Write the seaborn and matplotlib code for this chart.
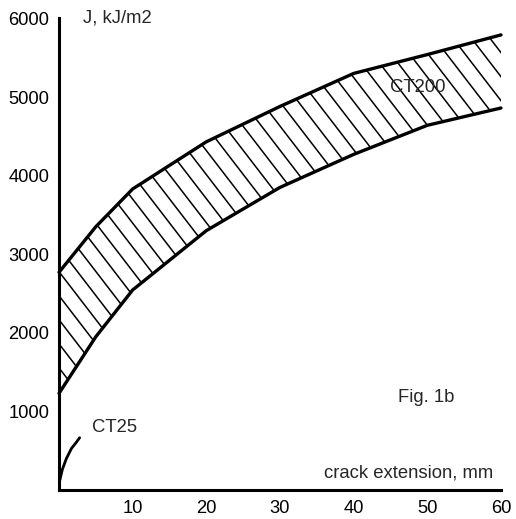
import matplotlib
matplotlib.use("Agg")
import matplotlib.pyplot as plt
from matplotlib.collections import LineCollection
import seaborn as sns
import numpy as np
import pandas as pd

# Crack extension (mm) and J-integral bounds for the CT200 specimens
crack_ext = [0, 5, 10, 20, 30, 40, 50, 60]
j_upper = [2770, 3350, 3830, 4430, 4880, 5300, 5540, 5790]
j_lower = [1230, 1950, 2545, 3300, 3850, 4270, 4640, 4860]

# Short CT25 resistance curve
ct25_ext = [0.1, 0.45, 1.0, 1.7, 2.3, 2.8]
ct25_j = [120, 260, 400, 530, 600, 665]

x_ticks = [10, 20, 30, 40, 50, 60]
y_ticks = [1000, 2000, 3000, 4000, 5000, 6000]

sns.set_theme(style="white")
plt.rcParams["font.family"] = ["Liberation Sans", "DejaVu Sans"]

fig = plt.figure(figsize=(5.16, 5.19), dpi=100)
ax = fig.add_axes([59 / 516, 29 / 519, 442 / 516, 471.6 / 519])

band = pd.DataFrame({"ext": crack_ext, "upper": j_upper, "lower": j_lower})
ct25 = pd.DataFrame({"ext": ct25_ext, "J": ct25_j})

# Scatter band: invisible fill used as the clip region for the hatching
region = ax.fill_between(band["ext"], band["lower"], band["upper"],
                         facecolor="none", edgecolor="none", linewidth=0)

# Diagonal hatching (a little steeper than 45 degrees), in axes fractions
ax_w, ax_h = 442.0, 471.6
steep = 1.3 * ax_w / ax_h           # slope in axes-fraction units
gap = 18.5 / ax_w                   # horizontal spacing between hatch lines
offsets = np.arange(-0.2, 2.6, gap * steep)
segs = [[(0.0, c), (c / steep, 0.0)] for c in offsets]
hatch = LineCollection(segs, colors="black", linewidths=1.1,
                       transform=ax.transAxes)
ax.add_collection(hatch)
hatch.set_clip_path(region.get_paths()[0], ax.transData)

sns.lineplot(data=band, x="ext", y="upper", color="black", linewidth=2.4,
             ax=ax, clip_on=False)
sns.lineplot(data=band, x="ext", y="lower", color="black", linewidth=2.4,
             ax=ax, clip_on=False)
sns.lineplot(data=ct25, x="ext", y="J", color="black", linewidth=2.0, ax=ax)

ax.set_xlim(0, 60)
ax.set_ylim(0, 6000)
ax.set_xticks(x_ticks)
ax.set_yticks(y_ticks)
ax.set_xlabel("")
ax.set_ylabel("")

for side in ("top", "right"):
    ax.spines[side].set_visible(False)
for side in ("left", "bottom"):
    ax.spines[side].set_linewidth(2.2)
    ax.spines[side].set_color("black")

ax.tick_params(direction="in", length=5, width=1.8, colors="black",
               labelsize=13.2, pad=7)

fs = 13.3
ax.text(3.2, 6000, "J, kJ/m2", fontsize=fs, ha="left", va="center")
ax.text(58.9, 220, "crack extension, mm", fontsize=fs, ha="right", va="center")
ax.text(44.9, 5115, "CT200", fontsize=fs, ha="left", va="center")
ax.text(46.0, 1183, "Fig. 1b", fontsize=fs, ha="left", va="center")
ax.text(4.5, 789, "CT25", fontsize=fs, ha="left", va="center")

fig.savefig("out.png", dpi=100)
